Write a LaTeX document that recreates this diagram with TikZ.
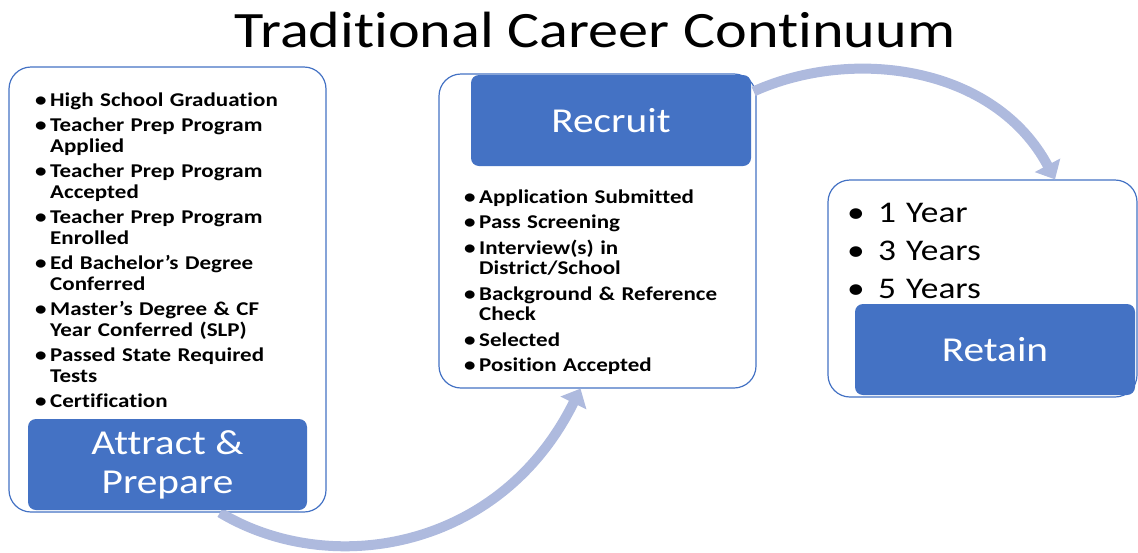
\documentclass[tikz,border=0pt]{standalone}
\usepackage{fontspec}
\setmainfont{Carlito}[FakeStretch=1.18, Ligatures={TeX,NoCommon}]
\usetikzlibrary{arrows.meta}
\definecolor{accent}{HTML}{4472C4}
\definecolor{flowcol}{RGB}{174,186,222}
\newcommand\bul[1][15pt]{\par\hangindent=#1\hangafter=1\noindent\makebox[#1][l]{\textbullet}}
\begin{document}
\begin{tikzpicture}[x=1pt,y=1pt,
  frame/.style={draw=accent, line width=1.2pt, fill=white, rounded corners=22pt, inner sep=0pt},
  stage/.style={fill=accent, rounded corners=8pt, minimum width=280pt, minimum height=91pt,
    text=white, align=center, font=\fontsize{35}{39}\selectfont},
  items/.style={anchor=base west, inner sep=0pt, text width=#1, align=left,
    font=\bfseries\fontsize{19.5}{20.5}\selectfont},
  flow/.style={draw=flowcol, line width=10pt, -{Triangle[width=28pt,length=16pt]}}]
\useasboundingbox (0,0) rectangle (1138,-552);
\node[font=\fontsize{51}{60}\selectfont, anchor=base] (title) at (595,-47) {Traditional Career Continuum};
\node[frame, minimum width=317pt, minimum height=445pt] (aframe) at (167.5,-289.5) {};
\node[frame, minimum width=317pt, minimum height=314pt] (rframe) at (597.5,-231) {};
\node[frame, minimum width=309pt, minimum height=217pt] (tframe) at (982.5,-288.5) {};
\draw[flow] ([xshift=52.5pt]aframe.south) .. controls +(110,-66) and +(-80,-162) .. ([xshift=-17pt]rframe.south);
\draw[flow] ([shift={(-3pt,-18pt)}]rframe.north east) .. controls +(100,45) and +(-60,113) .. ([xshift=72.5pt]tframe.north);
\node[stage, minimum width=279pt] (attract) at (167.5,-464.5) {Attract \&\\Prepare};
\node[stage] (recruit) at (611,-120.5) {Recruit};
\node[stage] (retain) at (995,-349.5) {Retain};
\node[items=285pt] (alist) at (35,-80.5) {\setlength\parskip{5pt}%
  \bul High School Graduation
  \bul Teacher Prep Program\newline Applied
  \bul Teacher Prep Program\newline Accepted
  \bul Teacher Prep Program\newline Enrolled
  \bul Ed Bachelor’s Degree\newline Conferred
  \bul Master’s Degree \& CF\newline Year Conferred (SLP)
  \bul Passed State Required\newline Tests
  \bul Certification};
\node[items=285pt] (rlist) at (464,-177.5) {\setlength\parskip{5pt}%
  \bul Application Submitted
  \bul Pass Screening
  \bul Interview(s) in\newline District/School
  \bul Background \& Reference\newline Check
  \bul Selected
  \bul Position Accepted};
\node[items=200pt, font=\fontsize{30}{38}\selectfont] (tlist) at (847,-184) {%
  \bul[31pt]1 Year
  \bul[31pt]3 Years
  \bul[31pt]5 Years};
\end{tikzpicture}
\end{document}
